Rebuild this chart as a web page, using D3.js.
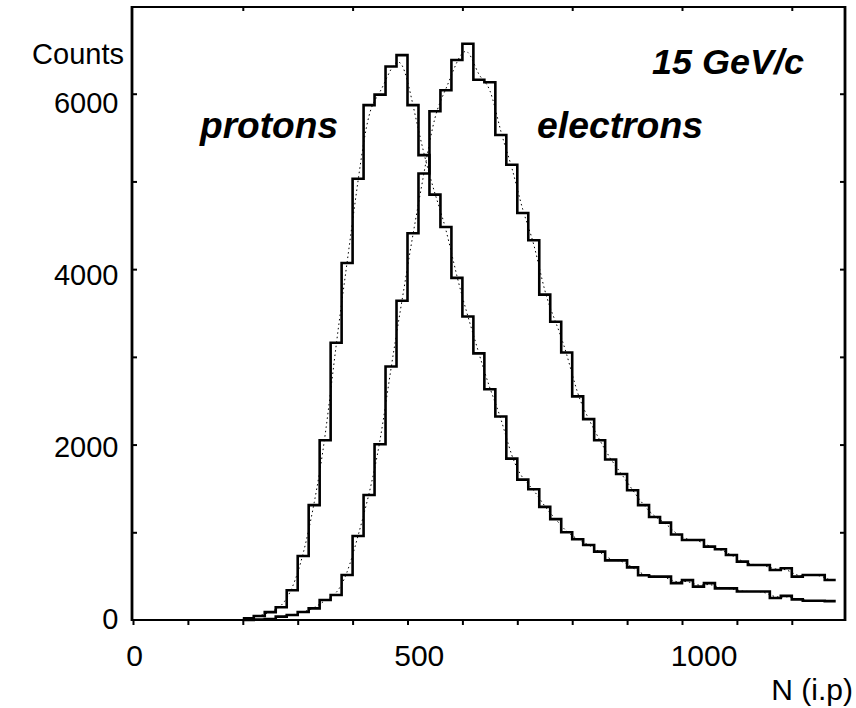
<!DOCTYPE html>
<html><head><meta charset="utf-8">
<script src="https://cdn.jsdelivr.net/npm/d3@7"></script>
<style>
body{margin:0;background:#fff}
svg{display:block}
text{font-family:"Liberation Sans",Arial,Helvetica,sans-serif;fill:#000}
</style>
</head><body>
<svg id="chart" width="856" height="708"></svg>
<script>
// ---- data ----
const binStart = 200;      // N (i.p) of the first bin's left edge
const binWidth = 20;       // bin width in N (i.p)
const protonCounts = [20,45,90,145,340,730,1310,2050,3160,4070,5030,5870,5990,6310,6440,5870,5300,4850,4480,3900,
  3460,3040,2630,2320,1840,1600,1490,1290,1150,1000,920,855,780,680,680,600,510,495,495,420,
  455,380,420,360,360,325,325,325,250,275,235,220,220,215];
const electronCounts = [0,5,10,38,57,91,133,228,285,513,958,1425,2003,2890,3640,4410,5090,5800,6040,6385,
  6570,6160,6130,5530,5190,4640,4330,3710,3400,3050,2550,2290,2050,1830,1665,1480,1310,1175,1110,975,
  912,912,836,806,741,665,627,627,570,590,494,513,513,456];
const xTickLabels = [0, 500, 1000];
const yTickLabels = [0, 2000, 4000, 6000];
const seriesLabels = ["protons", "electrons"];
const titleLabel = "15 GeV/c";
const xAxisTitle = "N (i.p)";
const yAxisTitle = "Counts";

// ---- scales ----
const svg = d3.select("#chart");
const x = d3.scaleLinear().domain([0, 1300]).range([133, 846.7]);
const y = d3.scaleLinear().domain([0, 7000]).range([620, 6]);
// label placement in the scanned original sits slightly off the tick marks
const xLab = d3.scaleLinear().domain([0, 1000]).range([134.5, 704]);
const yLab = d3.scaleLinear().domain([0, 6000]).range([618.5, 103]);

// ---- frame ----
const fr = svg.append("g").attr("stroke", "#000").attr("fill", "none");
fr.append("line").attr("x1", 132).attr("x2", 132).attr("y1", 6).attr("y2", 621).attr("stroke-width", 2.8);
fr.append("line").attr("x1", 131).attr("x2", 846).attr("y1", 620).attr("y2", 620).attr("stroke-width", 2.2);
fr.append("line").attr("x1", 131).attr("x2", 846).attr("y1", 7).attr("y2", 7).attr("stroke-width", 2.2);
fr.append("line").attr("x1", 845).attr("x2", 845).attr("y1", 6).attr("y2", 621).attr("stroke-width", 2.8);

// ticks via axes
const gBottom = svg.append("g").attr("transform", "translate(0,620)")
  .call(d3.axisBottom(x).tickValues(d3.range(0, 1300, 100)).tickSize(5).tickFormat(""));
const gTop = svg.append("g").attr("transform", "translate(0,7)")
  .call(d3.axisBottom(x).tickValues(d3.range(200, 1300, 200)).tickSize(4).tickFormat(""));
const gLeft = svg.append("g").attr("transform", "translate(132,0)")
  .call(d3.axisRight(y).tickValues(d3.range(1000, 7000, 1000)).tickSize(5).tickFormat(""));
const gRight = svg.append("g").attr("transform", "translate(845,0)")
  .call(d3.axisLeft(y).tickValues(d3.range(1000, 7000, 1000)).tickSize(5).tickFormat(""));
[gBottom, gTop, gLeft, gRight].forEach(g => {
  g.select(".domain").remove();
  g.selectAll(".tick line").attr("stroke", "#000").attr("stroke-width", 2);
});

// tick labels
svg.append("g").selectAll("text").data(xTickLabels).join("text")
  .attr("x", d => xLab(d)).attr("y", 666).attr("text-anchor", "middle")
  .attr("font-size", 30).text(d => d);
svg.append("g").selectAll("text").data(yTickLabels).join("text")
  .attr("x", 118.5).attr("y", d => yLab(d) + 10.4).attr("text-anchor", "end")
  .attr("font-size", 29).text(d => d);

svg.append("text").attr("x", 124).attr("y", 64).attr("text-anchor", "end")
  .attr("font-size", 29).text(yAxisTitle);
svg.append("text").attr("x", 853).attr("y", 700).attr("text-anchor", "end")
  .attr("font-size", 30).text(xAxisTitle);

// ---- histograms ----
function steps(counts) {
  const pts = counts.map((v, i) => [binStart + i * binWidth, v]);
  pts.push([binStart + counts.length * binWidth, counts[counts.length - 1]]);
  return pts;
}
function centers(counts) {
  return counts.map((v, i) => [binStart + (i + 0.5) * binWidth, v]);
}
const stepLine = d3.line().x(d => x(d[0])).y(d => y(d[1])).curve(d3.curveStepAfter);
const fitLine = d3.line().x(d => x(d[0])).y(d => y(d[1])).curve(d3.curveBasis);

[protonCounts, electronCounts].forEach(c => {
  svg.append("path").attr("d", fitLine(centers(c))).attr("fill", "none")
    .attr("stroke", "#000").attr("stroke-width", 1).attr("stroke-dasharray", "1.5,3");
  svg.append("path").attr("d", stepLine(steps(c))).attr("fill", "none")
    .attr("stroke", "#000").attr("stroke-width", 2.6).attr("stroke-linejoin", "miter");
});

// ---- annotations ----
svg.append("text").attr("x", 200).attr("y", 138).attr("font-size", 37)
  .attr("font-weight", "bold").attr("font-style", "italic")
  .attr("textLength", 138).attr("lengthAdjust", "spacingAndGlyphs").text(seriesLabels[0]);
svg.append("text").attr("x", 537).attr("y", 138).attr("font-size", 37)
  .attr("font-weight", "bold").attr("font-style", "italic")
  .attr("textLength", 166).attr("lengthAdjust", "spacingAndGlyphs").text(seriesLabels[1]);
svg.append("text").attr("x", 652).attr("y", 73.5).attr("font-size", 35)
  .attr("font-weight", "bold").attr("font-style", "italic")
  .attr("textLength", 152).attr("lengthAdjust", "spacingAndGlyphs").text(titleLabel);
</script>
</body></html>
